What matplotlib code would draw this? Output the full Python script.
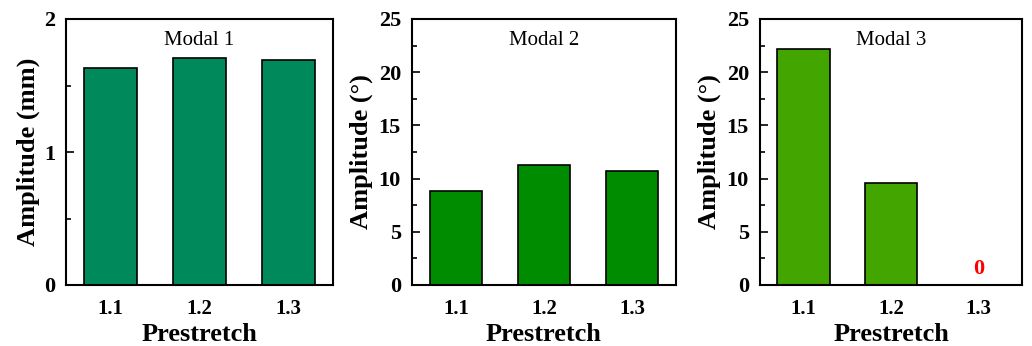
import numpy as np
import matplotlib
matplotlib.use("Agg")
import matplotlib.pyplot as plt
from matplotlib.ticker import MultipleLocator

plt.rcParams['font.family'] = ['Liberation Serif', 'DejaVu Serif']

categories = ['1.1', '1.2', '1.3']
modal1 = [1.63, 1.71, 1.69]
modal2 = [8.8, 11.3, 10.7]
modal3 = [22.2, 9.55, 0.0]

titles = ['Modal 1', 'Modal 2', 'Modal 3']
ylabels = ['Amplitude (mm)', 'Amplitude (°)', 'Amplitude (°)']
colors = ['#00895A', '#008C00', '#43A500']
ylims = [2, 25, 25]
majors = [1, 5, 5]
minors = [0.5, 2.5, 2.5]
labelpads = [3, 4, 4]

fig = plt.figure(figsize=(10.32, 3.46), dpi=100)
lefts = [66, 412, 760]
rights = [333, 676, 1022]
top, bottom = 19, 285
W, H = 1032, 346

x = np.arange(1, len(categories) + 1)
for i, vals in enumerate([modal1, modal2, modal3]):
    ax = fig.add_axes([lefts[i] / W, 1 - bottom / H,
                       (rights[i] - lefts[i]) / W, (bottom - top) / H])
    ax.bar(x, vals, width=0.6, color=colors[i], edgecolor='black', linewidth=1.2)
    ax.set_xlim(0.5, 3.5)
    ax.set_ylim(0, ylims[i])
    ax.set_xticks(x)
    ax.set_xticklabels(categories)
    ax.yaxis.set_major_locator(MultipleLocator(majors[i]))
    ax.yaxis.set_minor_locator(MultipleLocator(minors[i]))
    ax.tick_params(axis='y', which='major', direction='in', length=6, width=1.2,
                   pad=8, labelsize=16)
    ax.tick_params(axis='y', which='minor', direction='in', length=3.5, width=1.2)
    ax.tick_params(axis='x', length=0, pad=10, labelsize=15)
    for lab in ax.get_xticklabels() + ax.get_yticklabels():
        lab.set_fontweight('bold')
    for sp in ax.spines.values():
        sp.set_linewidth(1.5)
    ax.set_xlabel('Prestretch', fontsize=19, fontweight='bold', labelpad=3)
    ax.set_ylabel(ylabels[i], fontsize=19, fontweight='bold', labelpad=labelpads[i])
    ax.text(0.5, 0.92, titles[i], transform=ax.transAxes, ha='center', va='center',
            fontsize=15)

ax.text(x[2], 0.6, '0', color='red', fontsize=16, fontweight='bold', ha='center', va='bottom')

fig.savefig('out.png', dpi=100)
